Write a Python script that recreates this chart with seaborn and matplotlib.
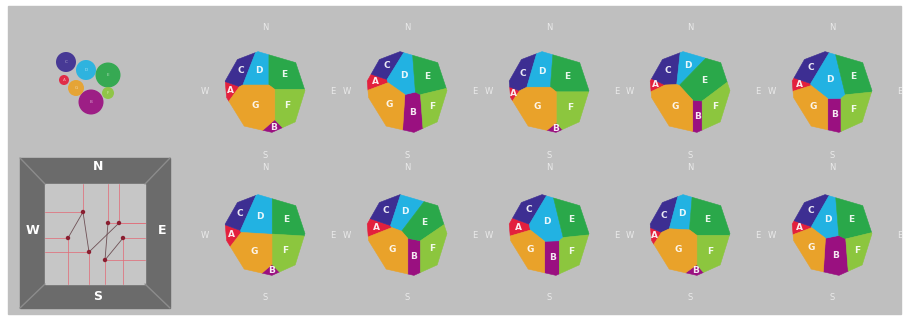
import matplotlib
matplotlib.use("Agg")
import matplotlib.pyplot as plt
import seaborn as sns
import numpy as np
from matplotlib.patches import Rectangle, Circle, Polygon

sns.set_theme(style="white")
plt.rcParams['font.family'] = ['DejaVu Sans']

# cells, in the order A..G
cell_names = ['A', 'B', 'C', 'D', 'E', 'F', 'G']
cell_colors = ['#e3203d', '#9a1080', '#3d2e92', '#22b2e2', '#2aa84a', '#8cc63e', '#e9a22a']

# bubble legend (pixel position and radius)
bubble_x = [64, 91, 66, 86, 108, 108, 76]
bubble_y = [80, 102, 62, 70, 75, 93, 88]
bubble_r = [5, 12.5, 10, 10, 12.5, 6, 8]

# points inside the compass box
box_x = [83, 108, 119, 68, 123, 89, 105]
box_y = [212, 223, 223, 238, 238, 252, 260]

# site positions of each of the 10 diagrams (unit disc, y up), order A..G
site_x = [
    [-0.80, 0.20, -0.60, -0.10, 0.55, 0.55, -0.10],
    [-0.80, 0.15, -0.60, -0.05, 0.60, 0.80, -0.60],
    [-0.85, 0.12, -0.65, -0.15, 0.50, 0.50, -0.15],
    [-0.85, 0.18, -0.60, -0.15, 0.25, 0.80, -0.55],
    [-0.80, 0.06, -0.60, 0.05, 0.65, 0.75, -0.60],
    [-0.80, 0.20, -0.60, -0.05, 0.60, 0.55, -0.10],
    [-0.80, 0.16, -0.60, -0.15, 0.30, 0.80, -0.55],
    [-0.80, 0.08, -0.60, 0.05, 0.65, 0.75, -0.60],
    [-0.85, 0.15, -0.60, -0.05, 0.55, 0.55, -0.10],
    [-0.80, 0.17, -0.60, 0.00, 0.60, 0.80, -0.60],
]
site_y = [
    [0.12, -0.75, 0.70, 0.50, 0.50, -0.40, -0.40],
    [0.10, -0.50, 0.70, 0.35, 0.40, -0.45, -0.45],
    [0.10, -0.75, 0.65, 0.50, 0.45, -0.40, -0.40],
    [0.10, -0.55, 0.65, 0.60, 0.20, -0.55, -0.55],
    [0.10, -0.55, 0.70, 0.30, 0.45, -0.55, -0.55],
    [0.15, -0.75, 0.70, 0.45, 0.45, -0.40, -0.40],
    [0.10, -0.55, 0.70, 0.55, 0.20, -0.55, -0.55],
    [0.15, -0.55, 0.70, 0.30, 0.45, -0.55, -0.55],
    [0.10, -0.75, 0.70, 0.55, 0.50, -0.40, -0.40],
    [0.10, -0.50, 0.70, 0.35, 0.40, -0.45, -0.45],
]
# share of the disc taken by each cell
cell_share = [
    [0.030, 0.025, 0.10, 0.13, 0.19, 0.18, 0.330],
    [0.040, 0.140, 0.09, 0.16, 0.19, 0.14, 0.240],
    [0.015, 0.015, 0.11, 0.14, 0.22, 0.19, 0.300],
    [0.020, 0.060, 0.12, 0.10, 0.25, 0.16, 0.280],
    [0.030, 0.090, 0.11, 0.20, 0.19, 0.17, 0.210],
    [0.040, 0.020, 0.10, 0.19, 0.19, 0.19, 0.270],
    [0.050, 0.090, 0.10, 0.13, 0.20, 0.16, 0.260],
    [0.050, 0.100, 0.10, 0.20, 0.18, 0.16, 0.200],
    [0.020, 0.020, 0.11, 0.12, 0.24, 0.19, 0.300],
    [0.030, 0.170, 0.11, 0.15, 0.21, 0.13, 0.190],
]

# outline shared by all diagrams (angle in degrees, radius)
outline_deg = [100, 43, 2, -44, -80, -122, -172, 165, 131]
outline_rad = [1.0, 1.05, 1.0, 1.05, 1.0, 0.98, 0.97, 1.03, 1.05]

centers_x = [265, 407, 549, 690, 832] * 2
centers_y = [92] * 5 + [235] * 5


def clip(poly, a, b, c):
    out = []
    n = len(poly)
    for k in range(n):
        p, q = poly[k], poly[(k + 1) % n]
        fp = a * p[0] + b * p[1] - c
        fq = a * q[0] + b * q[1] - c
        if fp <= 0:
            out.append(p)
        if fp * fq < 0:
            t = fp / (fp - fq)
            out.append((p[0] + t * (q[0] - p[0]), p[1] + t * (q[1] - p[1])))
    return out


def area(poly):
    if len(poly) < 3:
        return 0.0
    p = np.array(poly)
    return 0.5 * abs(np.dot(p[:, 0], np.roll(p[:, 1], -1)) - np.dot(p[:, 1], np.roll(p[:, 0], -1)))


def centroid(poly):
    p = np.array(poly)
    x, y = p[:, 0], p[:, 1]
    x1, y1 = np.roll(x, -1), np.roll(y, -1)
    cr = x * y1 - x1 * y
    a = cr.sum() / 2
    return (x + x1).dot(cr) / (6 * a), (y + y1).dot(cr) / (6 * a)


def power_cells(outer, xs, ys, ws):
    cells = []
    for i in range(len(xs)):
        poly = list(outer)
        for j in range(len(xs)):
            if j == i or len(poly) == 0:
                continue
            a = 2 * (xs[j] - xs[i])
            b = 2 * (ys[j] - ys[i])
            c = xs[j] ** 2 + ys[j] ** 2 - xs[i] ** 2 - ys[i] ** 2 - ws[j] + ws[i]
            poly = clip(poly, a, b, c)
        cells.append(poly)
    return cells


def voronoi_treemap(outer, xs, ys, shares):
    shares = np.array(shares) / np.sum(shares)
    total = area(outer)
    ws = np.zeros(len(xs))
    for _ in range(600):
        cells = power_cells(outer, xs, ys, ws)
        got = np.array([area(c) for c in cells]) / total
        ws += 0.8 * (shares - got)
    return power_cells(outer, xs, ys, ws)


fig = plt.figure(figsize=(9.04, 3.21), dpi=100)
ax = fig.add_axes([0, 0, 1, 1])
ax.set_xlim(0, 904)
ax.set_ylim(321, 0)
ax.axis('off')

# grey panel
ax.add_patch(Rectangle((8, 6), 893, 308, color='#bfbfbf', zorder=0))

# bubbles
for x, y, r, col, name in zip(bubble_x, bubble_y, bubble_r, cell_colors, cell_names):
    ax.add_patch(Circle((x, y), r, color=col, alpha=0.92, lw=0, zorder=2))
    ax.text(x, y, name, color='white', fontsize=3, ha='center', va='center', alpha=0.6, zorder=3)

# compass box
ax.add_patch(Rectangle((20, 158), 150, 150, color='#6b6b6b', zorder=1))
ax.add_patch(Rectangle((45, 184), 100, 100, color='#c6c6c6', zorder=1))
for (x0, y0), (x1, y1) in [((20, 158), (45, 184)), ((170, 158), (145, 184)),
                           ((20, 308), (45, 284)), ((170, 308), (145, 284))]:
    ax.plot([x0, x1], [y0, y1], color='#8c8c8c', lw=1, zorder=2)
for lbl, x, y in [('N', 98, 167), ('W', 33, 231), ('E', 162, 231), ('S', 98, 296)]:
    ax.text(x, y, lbl, color='white', fontsize=9, fontweight='bold', ha='center', va='center', zorder=3)

for x, y in zip(box_x, box_y):
    wall_x = 45 if x < 95 else 145
    wall_y = 184 if y < 234 else 284
    ax.plot([wall_x, x], [y, y], color='#e0707c', lw=0.7, alpha=0.8, zorder=2)
    ax.plot([x, x], [wall_y, y], color='#e0707c', lw=0.7, alpha=0.8, zorder=2)
for i, j in [(0, 3), (5, 2), (6, 4), (1, 6), (0, 5)]:
    ax.plot([box_x[i], box_x[j]], [box_y[i], box_y[j]], color='#6e5055', lw=0.6, zorder=2)
sns.scatterplot(x=box_x, y=box_y, color='#8a1e30', s=10, edgecolor='none', ax=ax, zorder=4)

# voronoi diagrams
ang = np.deg2rad(outline_deg)
outer = list(zip(np.array(outline_rad) * np.cos(ang), np.array(outline_rad) * np.sin(ang)))
for k in range(10):
    cx, cy = centers_x[k], centers_y[k]
    cells = voronoi_treemap(outer, site_x[k], site_y[k], cell_share[k])
    for poly, col, name in zip(cells, cell_colors, cell_names):
        if len(poly) < 3:
            continue
        p = np.array(poly)
        pts = np.column_stack([cx + 40 * p[:, 0], cy - 41 * p[:, 1]])
        ax.add_patch(Polygon(pts, closed=True, facecolor=col, edgecolor=col, lw=0.4, zorder=2))
        gx, gy = centroid(poly)
        ax.text(cx + 40 * gx, cy - 41 * gy, name, color='white', fontsize=6.5,
                fontweight='bold', ha='center', va='center', alpha=0.9, zorder=3)
    top = 64 if k < 5 else 67
    bot = 63 if k < 5 else 62
    for lbl, dx, dy in [('N', 0, -top), ('S', 0, bot), ('W', -60, 0), ('E', 68, 0)]:
        ax.text(cx + dx, cy + dy, lbl, color='#f2f2f2', fontsize=6, ha='center', va='center',
                alpha=0.85, zorder=3)

fig.savefig('out.png', dpi=100, facecolor='white')
